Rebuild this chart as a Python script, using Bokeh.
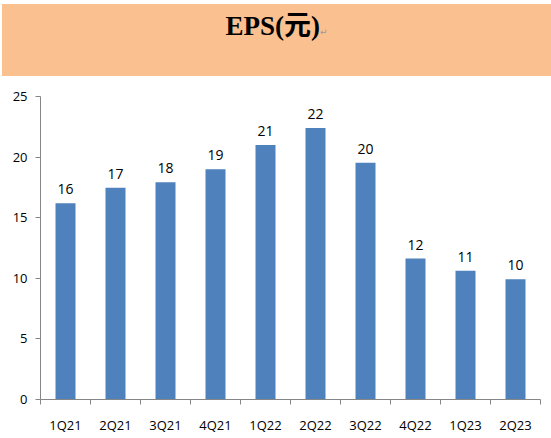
from bokeh.plotting import figure
from bokeh.layouts import column
from bokeh.models import Range1d, FixedTicker, ColumnDataSource, Div
from bokeh.core.properties import value
from bokeh.embed import file_html
from bokeh.resources import INLINE

# --- data ---
quarters = ["1Q21", "2Q21", "3Q21", "4Q21", "1Q22", "2Q22", "3Q22", "4Q22", "1Q23", "2Q23"]
eps = [16.2, 17.47, 17.93, 19.0, 21.0, 22.4, 19.53, 11.63, 10.62, 9.93]
eps_labels = ["16", "17", "18", "19", "21", "22", "20", "12", "11", "10"]
y_ticks = [0, 5, 10, 15, 20, 25]

title_text = "EPS(元)"

AXIS_GRAY = "#868686"
BAR_BLUE = "#4F81BD"
HEADER_ORANGE = "#FAC090"

# category centers / boundaries on a numeric x scale
centers = [i + 0.5 for i in range(len(quarters))]
bounds = list(range(len(quarters) + 1))

# --------------------------------------------------
# header band with the title
# --------------------------------------------------
header = Div(
    text=title_text + '<span style="font-family:DejaVu Sans;font-size:9px;'
                      'font-weight:normal;color:#9a9a9a">↵</span>',
    width=549, height=72, margin=(4, 0, 0, 2),
    styles={"background-color": HEADER_ORANGE,
            "font-family": "Liberation Serif, Noto Sans CJK TC",
            "font-weight": "bold", "font-size": "27px",
            "color": "#000000", "text-align": "center",
            "line-height": "44px"})

# --------------------------------------------------
# bar chart
# --------------------------------------------------
src = ColumnDataSource(data=dict(x=centers, eps=eps, label=eps_labels))

p = figure(width=551, height=362,
           x_range=Range1d(0, len(quarters)), y_range=Range1d(0, 25),
           output_backend="svg", toolbar_location=None,
           min_border_left=40, min_border_right=11,
           min_border_top=20, min_border_bottom=39)
p.outline_line_color = None
p.xgrid.visible = False
p.ygrid.visible = False

p.vbar(x="x", top="eps", bottom=0, width=0.4, source=src,
       fill_color=BAR_BLUE, line_color=None)

p.text(x="x", y="eps", text="label", source=src,
       text_align="center", text_baseline="alphabetic", y_offset=-14,
       text_font=value("Open Sans"), text_font_size="14px",
       text_color="#000000")

# x axis: labels at bar centers, short ticks at category boundaries
p.xaxis.ticker = FixedTicker(ticks=centers, minor_ticks=bounds)
p.xaxis.major_label_overrides = {c: q for c, q in zip(centers, quarters)}
p.xaxis.major_tick_line_color = None
p.xaxis.major_tick_in = 0
p.xaxis.major_tick_out = 0
p.xaxis.minor_tick_line_color = AXIS_GRAY
p.xaxis.minor_tick_in = 0
p.xaxis.minor_tick_out = 5
p.xaxis.axis_line_color = AXIS_GRAY
p.xaxis.major_label_standoff = 11
p.xaxis.major_label_text_font = "Open Sans"
p.xaxis.major_label_text_font_size = "13px"
p.xaxis.major_label_text_color = "#000000"

p.yaxis.ticker = FixedTicker(ticks=y_ticks)
p.yaxis.major_tick_line_color = AXIS_GRAY
p.yaxis.major_tick_in = 0
p.yaxis.major_tick_out = 5
p.yaxis.minor_tick_line_color = None
p.yaxis.axis_line_color = AXIS_GRAY
p.yaxis.major_label_standoff = 8
p.yaxis.major_label_text_font = "Open Sans"
p.yaxis.major_label_text_font_size = "13px"
p.yaxis.major_label_text_color = "#000000"

layout = column(header, p, spacing=0)

open("out.html", "w").write(file_html(layout, INLINE))
